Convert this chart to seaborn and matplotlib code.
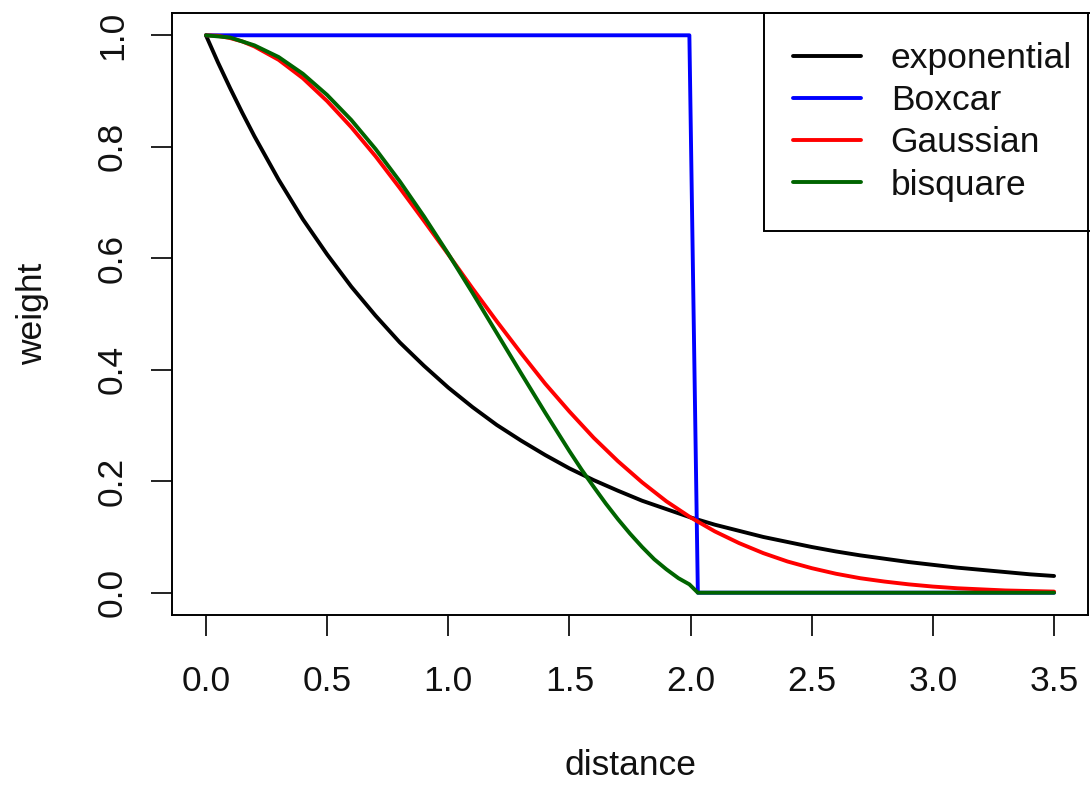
import numpy as np
import pandas as pd
import matplotlib
matplotlib.use("Agg")
import matplotlib.pyplot as plt
import seaborn as sns

# ---- data ----
grid = [0.0, 0.05, 0.1, 0.15, 0.2, 0.3, 0.4, 0.5, 0.6, 0.7, 0.8, 0.9, 1.0, 1.1, 1.2, 1.3, 1.4,
        1.5, 1.6, 1.7, 1.8, 1.9, 2.0, 2.1, 2.2, 2.3, 2.4, 2.5, 2.6, 2.7, 2.8, 2.9,
        3.0, 3.1, 3.2, 3.3, 3.4, 3.5]

exponential = [1.000, 0.951, 0.905, 0.861, 0.819, 0.741, 0.670, 0.607, 0.549, 0.497, 0.449, 0.407,
               0.368, 0.333, 0.301, 0.273, 0.247, 0.223, 0.202, 0.183, 0.165, 0.150,
               0.135, 0.122, 0.111, 0.100, 0.091, 0.082, 0.074, 0.067, 0.061, 0.055,
               0.050, 0.045, 0.041, 0.037, 0.033, 0.030]

gaussian = [1.000, 0.999, 0.995, 0.989, 0.980, 0.956, 0.923, 0.882, 0.835, 0.783, 0.726, 0.667,
            0.607, 0.546, 0.487, 0.430, 0.375, 0.325, 0.278, 0.236, 0.198, 0.164,
            0.135, 0.110, 0.089, 0.071, 0.056, 0.044, 0.034, 0.026, 0.020, 0.015,
            0.011, 0.008, 0.006, 0.004, 0.003, 0.002]

bisquare_x = [0.0, 0.1, 0.2, 0.3, 0.4, 0.5, 0.6, 0.7, 0.8, 0.9, 1.0, 1.1, 1.2, 1.3,
              1.4, 1.5, 1.55, 1.6, 1.65, 1.7, 1.75, 1.8, 1.85, 1.9, 1.95, 1.995, 2.03, 3.5]
bisquare = [1.000, 0.996, 0.982, 0.961, 0.931, 0.893, 0.848, 0.796, 0.738, 0.675,
            0.608, 0.538, 0.466, 0.394, 0.323, 0.254, 0.221, 0.190, 0.160, 0.132,
            0.106, 0.082, 0.060, 0.042, 0.026, 0.015, 0.000, 0.000]

boxcar_x = [0.0, 1.995, 2.03, 3.5]
boxcar = [1.0, 1.0, 0.0, 0.0]

series_names = ["exponential", "Boxcar", "Gaussian", "bisquare"]
series_colors = ["black", "#0000FF", "#FF0000", "#006400"]
x_ticks = [0.0, 0.5, 1.0, 1.5, 2.0, 2.5, 3.0, 3.5]
y_ticks = [0.0, 0.2, 0.4, 0.6, 0.8, 1.0]

# ---- build long table ----
frames = [
    pd.DataFrame({"distance": grid, "weight": exponential, "kernel": "exponential"}),
    pd.DataFrame({"distance": boxcar_x, "weight": boxcar, "kernel": "Boxcar"}),
    pd.DataFrame({"distance": grid, "weight": gaussian, "kernel": "Gaussian"}),
    pd.DataFrame({"distance": bisquare_x, "weight": bisquare, "kernel": "bisquare"}),
]
df = pd.concat(frames, ignore_index=True)

sns.set_style("white")
plt.rcParams["font.family"] = ["Liberation Sans", "DejaVu Sans"]

fig = plt.figure(figsize=(10.9, 7.85), dpi=100)
ax = fig.add_axes([172 / 1090, 1 - 615 / 785, (1088 - 172) / 1090, (615 - 13) / 785])

palette = dict(zip(series_names, series_colors))
sns.lineplot(data=df, x="distance", y="weight", hue="kernel", hue_order=series_names,
             palette=palette, linewidth=2.8, sort=False, estimator=None,
             units="kernel", legend=False, ax=ax)

ax.set_xlim(-0.14, 3.64)
ax.set_ylim(-0.04, 1.04)
ax.set_xticks(x_ticks)
ax.set_xticklabels([f"{v:.1f}" for v in x_ticks])
ax.set_yticks(y_ticks)
ax.set_yticklabels([f"{v:.1f}" for v in y_ticks], rotation=90, va="center")

for s in ax.spines.values():
    s.set_visible(True)
    s.set_color("black")
    s.set_linewidth(1.4)
    s.set_zorder(10)

ax.tick_params(axis="both", which="major", direction="out", length=15, width=1.4,
               color="#222222", labelsize=25.5, labelcolor="#111111",
               bottom=True, left=True)
ax.tick_params(axis="x", pad=21)
ax.tick_params(axis="y", pad=16)

ax.set_xlabel("distance", fontsize=25.5, color="#111111", labelpad=37)
ax.set_ylabel("weight", fontsize=25.5, color="#111111", labelpad=34)

handles = ax.get_lines()[:4]
leg = ax.legend(handles, series_names, loc="upper right", bbox_to_anchor=(1.0142, 1.0),
                borderaxespad=0.0, fontsize=25.5, frameon=True, fancybox=False,
                handlelength=1.92, handletextpad=0.85, labelspacing=0.26,
                borderpad=0.82)
leg.set_zorder(5)
fr = leg.get_frame()
fr.set_edgecolor("black")
fr.set_linewidth(1.4)
fr.set_alpha(1.0)
for t in leg.get_texts():
    t.set_color("#111111")

fig.savefig("out.png", dpi=100, facecolor="white")
